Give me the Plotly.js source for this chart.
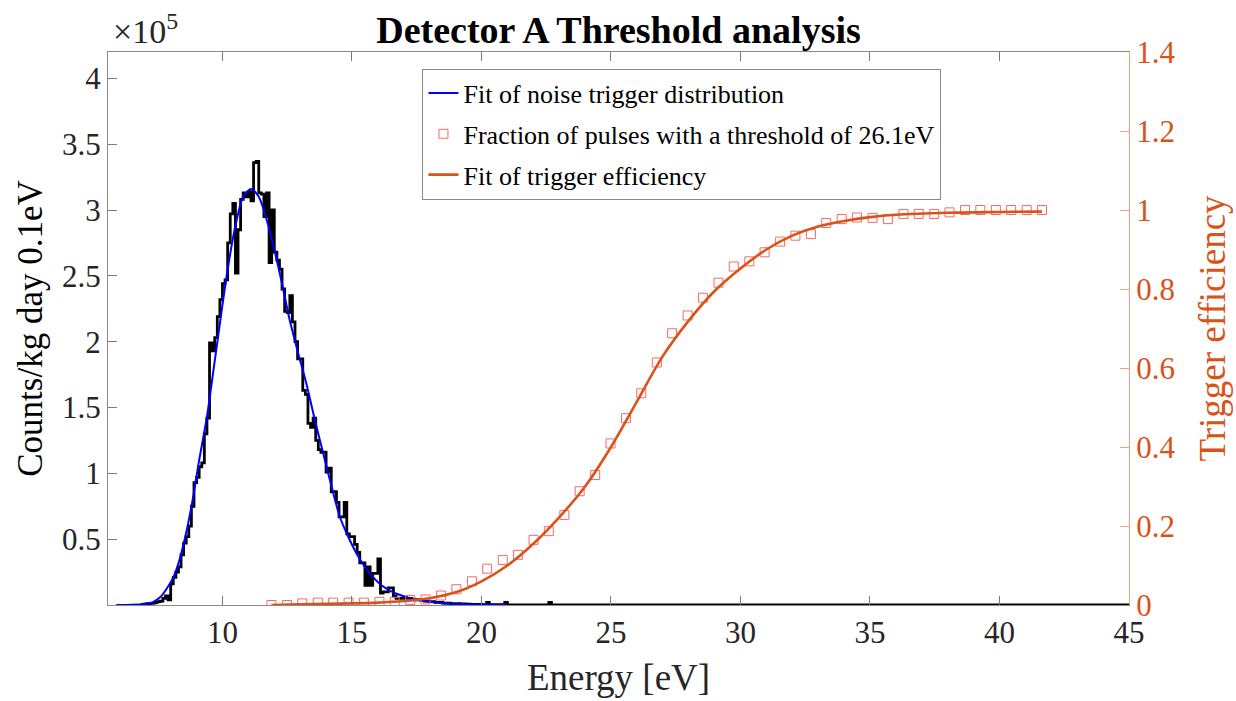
<!DOCTYPE html>
<html>
<head>
<meta charset="utf-8">
<script src="https://cdn.plot.ly/plotly-3.0.1.min.js"></script>
<style>
  html, body { margin: 0; padding: 0; background: #fff; }
  #chart { width: 1236px; height: 701px; }
</style>
</head>
<body>
<div id="chart"></div>
<script>
// ---------------- data ----------------
// Histogram of noise triggers (units of 1e5 counts/kg day 0.1eV), 0.1 eV bins
const histStart = 6.9;
const histBinWidth = 0.1;
const histCounts = [
  0.005, 0.008, 0.01, 0.012, 0.015, 0.02, 0.025, 0.03, 0.05, 0.07,   // 6.9 - 7.8
  0.04, 0.16, 0.21, 0.25, 0.29, 0.38, 0.47, 0.52, 0.60, 0.75,        // 7.9 - 8.8
  0.93, 0.97, 1.05, 1.08, 1.30, 1.42, 1.99, 1.93, 2.03, 2.19,        // 8.9 - 9.8
  2.32, 2.44, 2.47, 2.75, 2.97, 3.05, 2.52, 2.85, 3.08, 3.13,        // 9.9 - 10.8
  3.10, 3.14, 3.07, 3.36, 3.37, 3.13, 3.12, 2.95, 3.13, 2.60,        // 10.9 - 11.8
  3.00, 2.68, 2.62, 2.55, 2.40, 2.23, 2.22, 2.35, 2.15, 2.00,        // 11.9 - 12.8
  1.87, 1.87, 1.63, 1.60, 1.38, 1.35, 1.42, 1.25, 1.18, 1.16,        // 12.9 - 13.8
  1.16, 1.01, 1.04, 0.86, 0.86, 0.78, 0.67, 0.67, 0.78, 0.54,        // 13.9 - 14.8
  0.52, 0.52, 0.46, 0.40, 0.32, 0.32, 0.15, 0.29, 0.15, 0.24,        // 14.9 - 15.8
  0.24, 0.35, 0.09, 0.10, 0.10, 0.13, 0.13, 0.07, 0.05, 0.05,        // 15.9 - 16.8
  0.05, 0.06, 0.05, 0.05, 0.045, 0.04, 0.04, 0.04, 0.035, 0.03,      // 16.9 - 17.8
  0.03, 0.025, 0.025, 0.02, 0.02, 0.02, 0.015, 0.015, 0.015, 0.01,   // 17.9 - 18.8
  0.01, 0.01, 0.01, 0.008, 0.008, 0.006, 0.006, 0.005, 0.005, 0.004, // 18.9 - 19.8
  0.004, 0.003, 0.003, 0.02, 0.002, 0.002, 0.002, 0.002, 0.002, 0.002, // 19.9 - 20.8
  0.02, 0.001, 0.001, 0.001, 0.001, 0.001, 0.001, 0.001, 0.001, 0.001, // 20.9 - 21.8
  0.001, 0.001, 0.001, 0.001, 0.001, 0.001, 0.001, 0.02, 0           // 21.9 - 22.7
];
const histTailEnd = 45;

// Fit of noise trigger distribution (blue)
const fitNoiseX = [5.9, 6.5, 7.0, 7.3, 7.6, 7.8, 8.1, 8.35, 8.6, 8.85, 9.1, 9.4, 9.65, 9.95,
  10.2, 10.5, 10.8, 11.1, 11.4, 11.7, 12.0, 12.3, 12.6, 12.9, 13.24, 13.55, 13.89, 14.2,
  14.53, 14.85, 15.18, 15.5, 15.82, 16.14, 16.46, 16.8, 17.1, 17.5, 18.0, 18.5, 19.0, 19.5, 20.0, 21.0];
const fitNoiseY = [0, 0.002, 0.008, 0.02, 0.06, 0.11, 0.21, 0.35, 0.55, 0.8, 1.1, 1.43, 1.78, 2.21,
  2.55, 2.88, 3.10, 3.16, 3.10, 2.93, 2.70, 2.44, 2.16, 1.93, 1.68, 1.42, 1.15, 0.91,
  0.67, 0.52, 0.39, 0.29, 0.21, 0.15, 0.11, 0.08, 0.06, 0.04, 0.025, 0.014, 0.008, 0.004, 0.002, 0.001];

// Fraction of pulses with a threshold of 26.1 eV (red squares)
const fracX = [11.89, 12.49, 13.08, 13.68, 14.27, 14.87, 15.46, 16.06, 16.65, 17.25,
  17.84, 18.44, 19.03, 19.63, 20.22, 20.82, 21.41, 22.01, 22.60, 23.20,
  23.79, 24.39, 24.98, 25.58, 26.17, 26.77, 27.36, 27.96, 28.55, 29.15,
  29.74, 30.34, 30.93, 31.53, 32.12, 32.72, 33.31, 33.91, 34.50, 35.10,
  35.69, 36.29, 36.88, 37.48, 38.07, 38.67, 39.26, 39.86, 40.45, 41.05, 41.64];
const fracY = [0.0, 0.0, 0.004, 0.006, 0.006, 0.006, 0.006, 0.008, 0.008, 0.013,
  0.014, 0.024, 0.040, 0.060, 0.092, 0.114, 0.127, 0.165, 0.187, 0.228,
  0.288, 0.329, 0.409, 0.473, 0.536, 0.614, 0.688, 0.733, 0.778, 0.816,
  0.857, 0.870, 0.893, 0.920, 0.935, 0.939, 0.967, 0.977, 0.981, 0.980,
  0.977, 0.990, 0.990, 0.990, 0.994, 1.0, 1.0, 1.0, 1.0, 1.0, 1.0];

// Fit of trigger efficiency (orange)
const effFitX = [11.89, 13, 14, 15, 16, 17, 18, 19, 20, 21, 22, 23, 24, 25, 26, 27, 28, 29, 30,
  31, 32, 33, 34, 35, 36, 38, 40, 41.64];
const effFitY = [0.0, 0.002, 0.003, 0.004, 0.006, 0.01, 0.017, 0.032, 0.06, 0.10, 0.155, 0.222, 0.30,
  0.40, 0.515, 0.63, 0.72, 0.795, 0.852, 0.90, 0.935, 0.958, 0.972, 0.982, 0.988, 0.993, 0.995, 0.996];

const xTicks = [10, 15, 20, 25, 30, 35, 40, 45];
const yLeftTicks = [0.5, 1, 1.5, 2, 2.5, 3, 3.5, 4];
const yLeftTickText = ['0.5', '1', '1.5', '2', '2.5', '3', '3.5', '4'];
const yRightTicks = [0, 0.2, 0.4, 0.6, 0.8, 1, 1.2, 1.4];
const yRightTickText = ['0', '0.2', '0.4', '0.6', '0.8', '1', '1.2', '1.4'];

// ---------------- build stair line for histogram ----------------
const histX = [histStart];
const histY = [0];
histCounts.forEach((c, i) => {
  histX.push(histStart + i * histBinWidth);
  histY.push(c);
});
histX.push(histStart + histCounts.length * histBinWidth);
histY.push(0);
histX.push(histTailEnd);
histY.push(0);

const FONT = 'Liberation Serif, Times New Roman, serif';
const ORANGE = '#D95319';

const traces = [
  {
    x: histX, y: histY, type: 'scatter', mode: 'lines',
    line: { shape: 'hv', color: '#000000', width: 2.8 },
    showlegend: false, hoverinfo: 'skip', xaxis: 'x', yaxis: 'y'
  },
  {
    x: fitNoiseX, y: fitNoiseY, type: 'scatter', mode: 'lines',
    name: 'Fit of noise trigger distribution', legendgroup: 'a',
    line: { color: '#0000FF', width: 2, shape: 'spline', smoothing: 0.8 },
    xaxis: 'x', yaxis: 'y'
  },
  {
    x: fracX, y: fracY, type: 'scatter', mode: 'markers',
    name: 'Fraction of pulses with a threshold of 26.1eV', legendgroup: 'b',
    marker: { symbol: 'square-open', size: 9, color: '#FF6666', line: { width: 1, color: '#FF6666' } },
    xaxis: 'x', yaxis: 'y2'
  },
  {
    x: effFitX, y: effFitY, type: 'scatter', mode: 'lines',
    name: 'Fit of trigger efficiency', legendgroup: 'c',
    line: { color: ORANGE, width: 2.6, shape: 'spline', smoothing: 0.9 },
    xaxis: 'x', yaxis: 'y2'
  }
];

const layout = {
  width: 1236, height: 701,
  margin: { l: 108, r: 107, t: 52, b: 96 },
  paper_bgcolor: '#ffffff', plot_bgcolor: '#ffffff',
  font: { family: FONT, color: '#262626' },
  title: {
    text: '<b>Detector A Threshold analysis</b>',
    font: { family: FONT, size: 38, color: '#000000' },
    x: 0.5, xanchor: 'center', xref: 'paper',
    y: 0.957, yanchor: 'middle', yref: 'container'
  },
  xaxis: {
    range: [5.58, 45], tickvals: xTicks, ticktext: xTicks.map(String),
    ticks: 'inside', ticklen: 9, tickwidth: 1, tickcolor: '#7a7a7a',
    showline: true, linecolor: '#8a8a8a', linewidth: 1, mirror: 'ticks',
    showgrid: false, zeroline: false,
    tickfont: { family: FONT, size: 31, color: '#262626' },
    title: { text: 'Energy [eV]', font: { family: FONT, size: 37, color: '#262626' }, standoff: 14 }
  },
  yaxis: {
    range: [0, 4.2], tickvals: yLeftTicks, ticktext: yLeftTickText,
    ticks: 'inside', ticklen: 9, tickwidth: 1, tickcolor: '#7a7a7a',
    showline: true, linecolor: '#8a8a8a', linewidth: 1, mirror: false,
    showgrid: false, zeroline: false,
    tickfont: { family: FONT, size: 31, color: '#262626' },
    title: { text: 'Counts/kg day 0.1eV', font: { family: FONT, size: 35, color: '#000000' }, standoff: 8 }
  },
  yaxis2: {
    overlaying: 'y', side: 'right', anchor: 'x',
    range: [0, 1.4], tickvals: yRightTicks, ticktext: yRightTickText,
    ticks: 'inside', ticklen: 9, tickwidth: 1, tickcolor: '#F2A07A',
    showline: true, linecolor: '#F2A07A', linewidth: 1,
    showgrid: false, zeroline: false,
    tickfont: { family: FONT, size: 31, color: ORANGE },
    title: { text: 'Trigger efficiency', font: { family: FONT, size: 37, color: ORANGE }, standoff: 24 }
  },
  legend: {
    x: 0.308, y: 0.970, xanchor: 'left', yanchor: 'top',
    bgcolor: '#ffffff', bordercolor: '#8a8a8a', borderwidth: 1,
    font: { family: FONT, size: 26, color: '#000000' },
    traceorder: 'grouped', tracegroupgap: 4
  },
  annotations: [
    {
      text: '×10<sup>5</sup>', xref: 'paper', yref: 'paper',
      x: 0.003, y: 1.0, xanchor: 'left', yanchor: 'bottom', showarrow: false,
      font: { family: FONT, size: 34, color: '#262626' }
    }
  ],
  showlegend: true
};

Plotly.newPlot('chart', traces, layout, { displayModeBar: false, staticPlot: true });
</script>
</body>
</html>
